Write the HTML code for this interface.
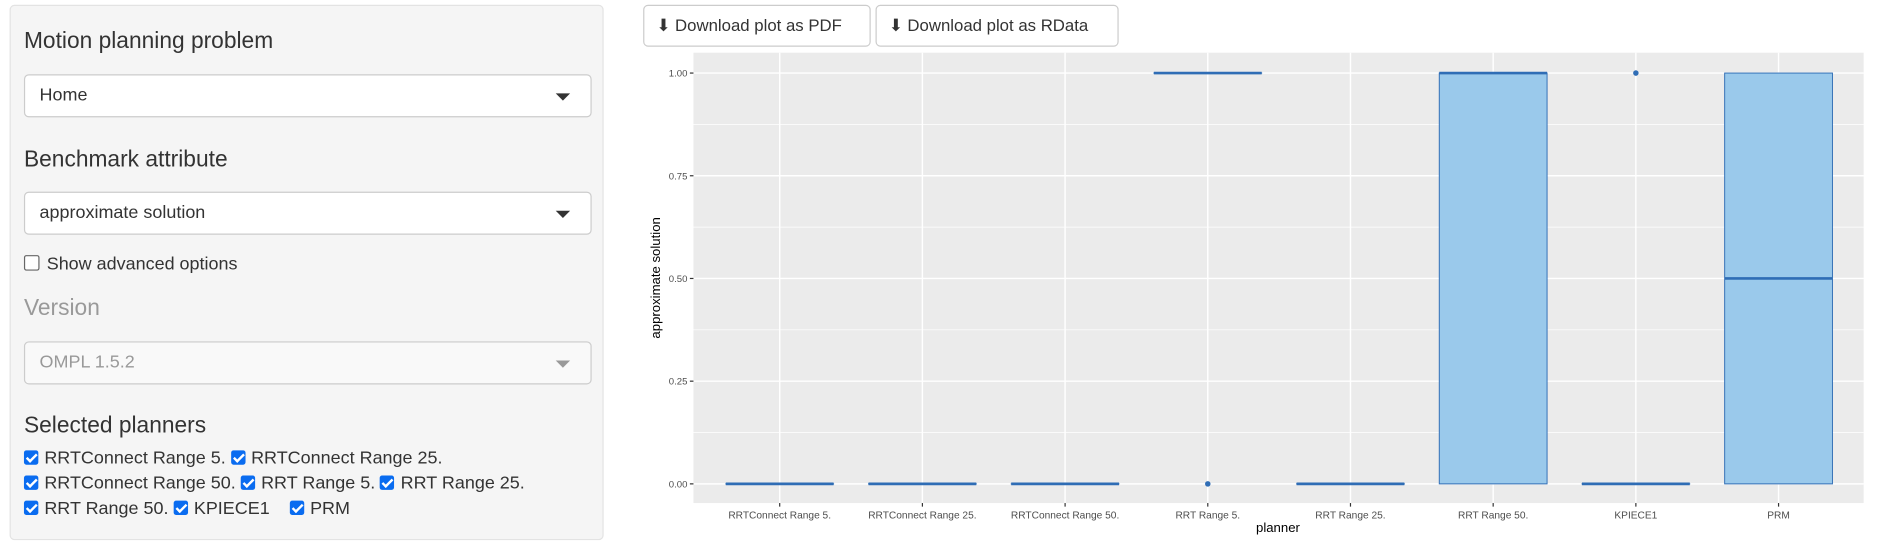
<!DOCTYPE html>
<html><head><meta charset="utf-8"><style>
html,body{margin:0;padding:0;background:#fff;width:1878px;height:545px;overflow:hidden;font-family:"Liberation Sans",sans-serif;}
#root{position:absolute;left:0;top:0;width:1568px;height:455px;transform:scale(1.19770);transform-origin:0 0;}
.panel{position:absolute;left:8px;top:4px;width:496px;height:447px;background:#f5f5f5;border:1px solid #e3e3e3;border-radius:4px;box-sizing:border-box;}
.h{position:absolute;left:11px;font-size:19px;color:#333;}
.sel{position:absolute;left:11px;width:474px;height:36px;background:#fff;border:1px solid #ccc;border-radius:4px;box-sizing:border-box;font-size:15px;color:#333;padding:8px 12px;}
.sel .car{position:absolute;right:17px;top:15px;width:0;height:0;border-left:6px solid transparent;border-right:6px solid transparent;border-top:6px solid #333;}
.cb{display:inline-block;width:12px;height:12px;border-radius:2px;background:#0a6cf0;vertical-align:-1px;margin-right:5px;position:relative}
.cb:after{content:"";position:absolute;left:4px;top:1px;width:3px;height:7px;border:solid #fff;border-width:0 2px 2px 0;transform:rotate(45deg)}
.line{position:absolute;left:11px;font-size:15px;color:#333;white-space:nowrap}
.btn{position:absolute;top:4px;height:35px;background:#fff;border:1px solid #ccc;border-radius:4px;box-sizing:border-box;font-size:14px;color:#333;padding:8px 10px;white-space:nowrap;}
</style></head><body>
<div id="root">
<div class="panel">
 <div class="h" style="top:19px">Motion planning problem</div>
 <div class="sel" style="top:57px">Home<span class="car"></span></div>
 <div class="h" style="top:118px">Benchmark attribute</div>
 <div class="sel" style="top:155px">approximate solution<span class="car"></span></div>
 <div class="line" style="top:207px"><span style="display:inline-block;width:11px;height:11px;border:1px solid #666;border-radius:2px;background:#fff;vertical-align:-1px;margin-right:6px"></span>Show advanced options</div>
 <div class="h" style="top:242px;color:#999">Version</div>
 <div class="sel" style="top:280px;background:#f9f9f9;color:#999">OMPL 1.5.2<span class="car" style="border-top-color:#999"></span></div>
 <div class="h" style="top:340px">Selected planners</div>
 <div class="line" style="top:369px"><span class="cb"></span>RRTConnect Range 5. <span class="cb"></span>RRTConnect Range 25.</div>
 <div class="line" style="top:390px"><span class="cb"></span>RRTConnect Range 50. <span class="cb"></span>RRT Range 5. <span class="cb"></span>RRT Range 25.</div>
 <div class="line" style="top:411px"><span class="cb"></span>RRT Range 50. <span class="cb"></span>KPIECE1 &nbsp;&nbsp;&nbsp;<span class="cb"></span>PRM</div>
</div>
<div class="btn" style="left:537px;width:190px">&#11015; Download plot as PDF</div>
<div class="btn" style="left:731px;width:203px">&#11015; Download plot as RData</div>
<svg id="chart" style="position:absolute;left:0;top:0" width="1568" height="455"></svg>
</div>
<script>
const categories=["RRTConnect Range 5.","RRTConnect Range 25.","RRTConnect Range 50.","RRT Range 5.","RRT Range 25.","RRT Range 50.","KPIECE1","PRM"];
const q1=[0,0,0,1,0,0,0,0];
const med=[0,0,0,1,0,1,0,0.5];
const q3=[0,0,0,1,0,1,0,1];
const outliers=[[],[],[],[0],[],[],[1],[]];
const yTicks=[0,0.25,0.5,0.75,1];
const yTickLabels=["0.00","0.25","0.50","0.75","1.00"];
const NS="http://www.w3.org/2000/svg";
const svg=document.getElementById('chart');
const PL=579,PR=1556,PT=44,PB=420;
const y=v=>404-v*343;
const step=119.14;
const x=i=>651+step*i;
function mk(t,a){const e=document.createElementNS(NS,t);for(const k in a)e.setAttribute(k,a[k]);svg.appendChild(e);return e;}
let e=mk('rect',{x:PL,y:PT,width:PR-PL,height:PB-PT,fill:'#ebebeb'});


for(let i=0;i<yTicks.length-1;i++){const m=(yTicks[i]+yTicks[i+1])/2;mk('line',{x1:PL,x2:PR,y1:y(m),y2:y(m),stroke:'#fff','stroke-width':0.6});}
yTicks.forEach((v,i)=>{
 mk('line',{x1:PL,x2:PR,y1:y(v),y2:y(v),stroke:'#fff','stroke-width':1.2});
 mk('line',{x1:PL-3,x2:PL,y1:y(v),y2:y(v),stroke:'#333'});
 const t=mk('text',{x:PL-5,y:y(v)+3,'text-anchor':'end','font-size':8,fill:'#4d4d4d'});t.textContent=yTickLabels[i];
 
 
});
categories.forEach((c,i)=>{
 mk('line',{x1:x(i),x2:x(i),y1:PT,y2:PB,stroke:'#fff','stroke-width':1.2});
 mk('line',{x1:x(i),x2:x(i),y1:PB,y2:PB+3,stroke:'#333'});
 const t=mk('text',{x:x(i),y:PB+13,'text-anchor':'middle','font-size':8.5,fill:'#4d4d4d'});t.textContent=c;
 
 
});
categories.forEach((c,i)=>{
 const w=90,x0=x(i)-w/2;
 const b=mk('rect',{x:x0,y:y(q3[i]),width:w,height:Math.max(y(q1[i])-y(q3[i]),0.01),fill:'#9ac9eb',stroke:'#2f6db5','stroke-width':0.8});
 
 
 mk('line',{x1:x0,x2:x0+w,y1:y(med[i]),y2:y(med[i]),stroke:'#2f6db5','stroke-width':2.2});
 outliers[i].forEach(o=>{const p=mk('circle',{cx:x(i),cy:y(o),r:2.3,fill:'#2f6db5'});
  
  });
});
let t=mk('text',{x:1067,y:444,'text-anchor':'middle','font-size':11,fill:'#000'});t.textContent='planner';


t=mk('text',{x:0,y:0,'text-anchor':'middle','font-size':11,fill:'#000',transform:'translate(551,232) rotate(-90)'});t.textContent='approximate solution';


</script>
</body></html>
